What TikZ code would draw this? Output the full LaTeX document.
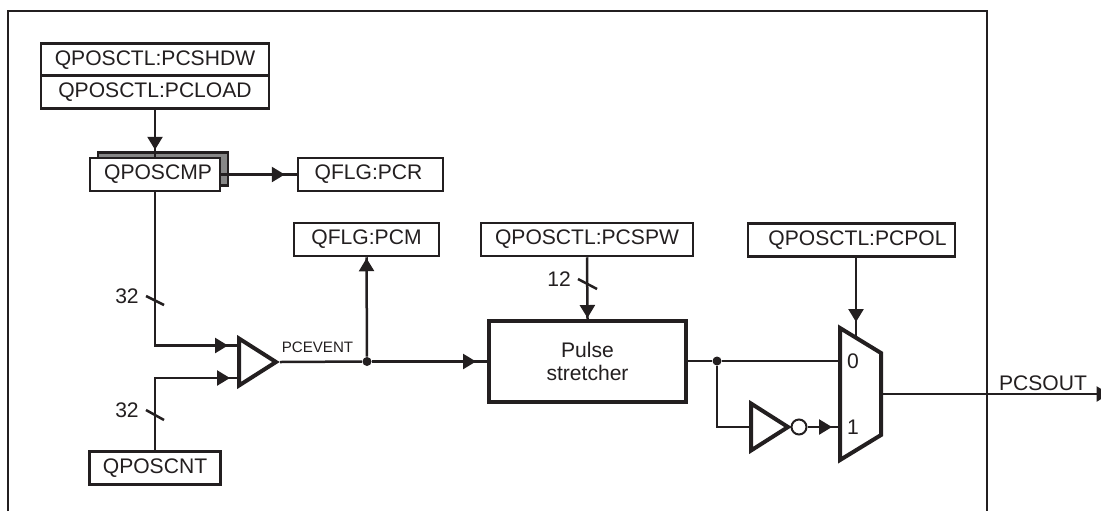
\documentclass[tikz,border=0pt]{standalone}
\usepackage{fontspec}
\setmainfont{Liberation Sans}
\usepackage{xcolor}
\usetikzlibrary{positioning, arrows.meta, shapes.geometric, decorations.markings}
\definecolor{inkdark}{RGB}{35,31,32}
\definecolor{shadowgrey}{RGB}{135,135,135}

\begin{document}
\begin{tikzpicture}[x=0.02cm,y=-0.02cm,
  reg/.style={draw=inkdark, line width=0.05cm, fill=white, minimum height=0.66cm, inner sep=0pt, text=inkdark, font=\fontsize{12}{14}\selectfont},
  heavy/.style={draw=inkdark, line width=0.08cm, fill=white, align=center, text=inkdark, inner sep=0pt, font=\fontsize{12}{13.6}\selectfont},
  wire/.style={draw=inkdark, line width=0.05cm},
  tipat/.style={postaction={decorate, decoration={markings, mark=at position #1 with {\arrow[inkdark]{Triangle[length=0.26cm, width=0.3cm]}}}}},
  amp/.style={isosceles triangle, isosceles triangle apex angle=60, isosceles triangle stretches, draw=inkdark, line width=0.08cm, fill=white, inner sep=0pt, minimum width=0.94cm, minimum height=0.74cm, anchor=lower side},
  note/.style={text=inkdark, inner sep=0pt, font=\fontsize{12}{14}\selectfont},
  dotjoin/.style={circle, fill=inkdark, inner sep=0pt, minimum size=0.18cm}]
  \useasboundingbox (0,0) rectangle (1101,511);

  % frame, open at the bottom
  \draw[wire] (8,511) -- (8,11) -- (987,11) -- (987,511);

  % registers
  \node[reg, minimum width=4.56cm] (pcshdw) at (155,60) {QPOSCTL:PCSHDW};
  \node[reg, minimum width=4.56cm] (pcload) at (155,92) {QPOSCTL:PCLOAD};
  \node[reg, minimum width=2.6cm, fill=shadowgrey] (cmpback) at (163,169) {};
  \node[reg, minimum width=2.6cm] (qposcmp) at (155,174.5) {\hspace*{0.12cm}QPOSCMP};
  \node[reg, minimum width=2.9cm] (pcr) at (370.5,174.5) {QFLG:PCR\hspace*{0.08cm}};
  \node[reg, minimum width=2.9cm] (pcm) at (366.5,239.5) {QFLG:PCM};
  \node[reg, minimum width=4.24cm] (pcspw) at (587,239.5) {QPOSCTL:PCSPW};
  \node[reg, minimum width=4.14cm] (pcpol) at (851.5,240) {\hspace*{0.24cm}QPOSCTL:PCPOL};
  \node[reg, minimum width=2.62cm] (qposcnt) at (155,468) {QPOSCNT};
  \node[heavy, minimum width=3.94cm, minimum height=1.62cm] (pulse) at (587.5,361.5) {Pulse\\stretcher};

  % comparator, inverter
  \node[amp] (cmp) at (237,362) {};
  \node[amp] (inv) at (749,427) {};
  \node[circle, draw=inkdark, line width=0.04cm, fill=white, minimum size=0.3cm, inner sep=0pt] (bubble) at (799,427) {};

  % output mux
  \draw[draw=inkdark, line width=0.08cm, fill=white, line join=miter] (840,328) -- (881,353) -- (881,435) -- (840,460) -- cycle;
  \coordinate (muxa) at (840,361);
  \coordinate (muxb) at (840,427);
  \coordinate (muxs) at (856,336);
  \coordinate (muxo) at (881,394);
  \node[note] at (853,361) {0};
  \node[note] at (853,427) {1};

  % named bends and joins
  \coordinate (cmpa) at (237,345.5);
  \coordinate (cmpb) at (237,378);
  \coordinate (bend1) at (155,345.5);
  \coordinate (bend2) at (155,378);
  \coordinate (bend3) at (717,427);
  \coordinate (pcsend) at (1110,394);
  \node[dotjoin] (joint1) at (367,361.5) {};
  \node[dotjoin] (joint2) at (717,361) {};

  % connectors
  \draw[wire, tipat={-0.14cm}] (pcload.south) -- (qposcmp.north);
  \draw[wire, tipat={-0.24cm}] (qposcmp.east) -- (pcr.west);
  \draw[wire, tipat={-0.18cm}] (qposcmp.south) -- (bend1) -- (cmpa);
  \draw[wire, tipat={-0.14cm}] (qposcnt.north) -- (bend2) -- (cmpb);
  \draw[wire] (cmp.apex) -- (joint1);
  \draw[wire, tipat={-0.02cm}] (joint1) -- (pcm.south);
  \draw[wire, tipat={-0.22cm}] (joint1) -- (pulse.west);
  \draw[wire, tipat={-0.02cm}] (pcspw.south) -- (pulse.north);
  \draw[wire] (pulse.east |- joint2) -- (joint2) -- (muxa);
  \draw[wire] (joint2) -- (bend3) -- (inv.lower side);
  \draw[wire, tipat={-0.16cm}] (bubble.east) -- (muxb);
  \draw[wire, tipat={-0.28cm}] (pcpol.south -| muxs) -- (muxs);
  \draw[wire, tipat={-0.01cm}] (muxo) -- (pcsend);

  % bus ticks
  \draw[wire] (146,296) -- (164,305);
  \draw[wire] (146,410) -- (164,420);
  \draw[wire] (578,279) -- (597,289);
  \node[note] at (127,296) {32};
  \node[note] at (127,410) {32};
  \node[note] at (559,279) {12};
  \node[text=inkdark, inner sep=0pt, font=\fontsize{8.6}{10}\selectfont] at (317.5,347) {PCEVENT};
  \node[note] at (1043,383) {PCSOUT};
\end{tikzpicture}
\end{document}
